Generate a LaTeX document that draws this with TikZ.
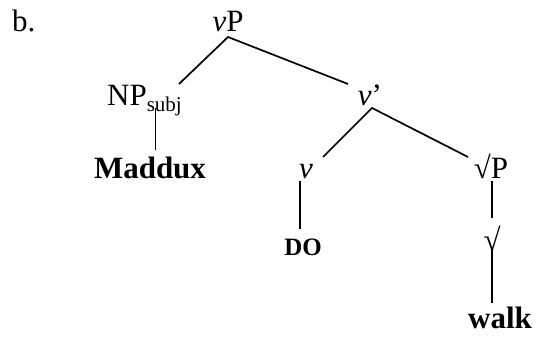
\documentclass[tikz,border=0pt]{standalone}
\usepackage{fontspec}
\setmainfont{Liberation Serif}
\begin{document}
\begin{tikzpicture}[x=1pt,y=-1pt,
  lab/.style={inner sep=0pt,anchor=base,font=\fontsize{31}{31}\selectfont},
  bsmall/.style={inner sep=0pt,anchor=base,font=\fontsize{25}{25}\selectfont\bfseries},
  branch/.style={line width=1.7pt}]
\useasboundingbox (0,0) rectangle (540,337);
\node[lab,anchor=base west] (b) at (12,32) {b.};
\node[lab] (vP) at (228,32) {\textit{v}P};
\node[lab,anchor=base west] (NP) at (107,105) {NP\textsubscript{\fontsize{21}{21}\selectfont subj}};
\node[lab,font=\fontsize{31}{31}\selectfont\bfseries] (Maddux) at (150,178) {Maddux};
\node[lab] (vbar) at (370,105) {\textit{v}’};
\node[lab] (v) at (306,178) {\textit{v}};
\node[lab] (RP) at (491,178) {√P};
\node[bsmall] (DO) at (303,255) {DO};
\node[lab] (R) at (492,250) {√};
\node[lab,font=\fontsize{31}{31}\selectfont\bfseries] (walk) at (500,328) {walk};
% connector end points
\coordinate (vPb) at (228,37);
\coordinate (NPt) at (179,84);
\coordinate (vbart) at (348,84);
\coordinate (NPb) at (155.5,108);
\coordinate (Maddt) at (155.5,150);
\coordinate (vbarb) at (372,108);
\coordinate (vt) at (323,157);
\coordinate (RPt) at (468,157);
\coordinate (vb) at (300,181);
\coordinate (DOt) at (300,229);
\coordinate (RPb) at (492,181);
\coordinate (Rt) at (492,218);
\coordinate (Rb) at (492,249);
\coordinate (walkt) at (492,303);
\draw[branch] (NPt) -- (vPb) -- (vbart);
\draw[branch] (NPb) -- (Maddt);
\draw[branch] (vt) -- (vbarb) -- (RPt);
\draw[branch] (vb) -- (DOt);
\draw[branch] (RPb) -- (Rt);
\draw[branch] (Rb) -- (walkt);
\end{tikzpicture}
\end{document}
